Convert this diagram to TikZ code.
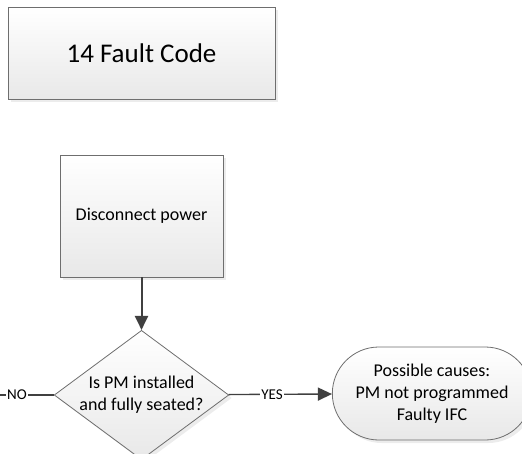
\documentclass[tikz,border=0pt]{standalone}
\usepackage{fontspec}
\setmainfont{Carlito}
\usetikzlibrary{shapes.geometric,shapes.misc,arrows.meta,shadows}

\definecolor{edgegray}{HTML}{6E6E6E}
\definecolor{linegray}{HTML}{404040}

\tikzset{
  box/.style={draw=edgegray, line width=0.8pt, top color=white, bottom color=black!9,
    align=center, font=\fontsize{18}{22}\selectfont,
    drop shadow={shadow xshift=3pt, shadow yshift=-3pt, fill=black!15}},
  flowline/.style={draw=linegray, line width=1.4pt},
  flowarrow/.style={flowline, -{Triangle[length=14pt,width=13pt]}},
  linelabel/.style={fill=white, inner sep=1pt, font=\fontsize{15}{18}\selectfont}
}

\begin{document}
\begin{tikzpicture}[x=1pt,y=-1pt]
    \useasboundingbox (0,0) rectangle (522,453);

    % Title box
    \node[box, minimum width=267pt, minimum height=92pt, font=\fontsize{27}{32}\selectfont] (title) at (141.5,53) {14 Fault Code};

    % Process step
    \node[box, minimum width=163pt, minimum height=122pt] (disconnect) at (141.5,216) {Disconnect power};

    % Decision
    \node[box, diamond, aspect=1.35, minimum width=162pt, minimum height=120pt, inner sep=0pt] (pmcheck) at (141.5,395) {Is PM installed\\and fully seated?};

    % Outcome
    \node[box, rounded rectangle, minimum width=206pt, minimum height=93pt] (causes) at (432,393.5) {Possible causes:\\PM not programmed\\Faulty IFC};

    % Connectors
    \coordinate (noend) at (-20,395);
    \draw[flowarrow, line width=2pt] (disconnect) -- (pmcheck);
    \draw[flowline] (pmcheck) -- node[linelabel] {NO} (noend);
    \draw[flowarrow] (pmcheck) -- node[linelabel, pos=0.42] {YES} (causes);
\end{tikzpicture}
\end{document}
